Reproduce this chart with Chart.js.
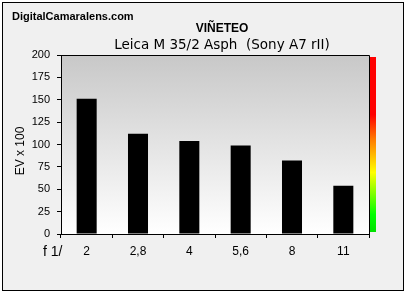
<!DOCTYPE html>
<html lang="es">
<head>
    <meta charset="UTF-8">
    <title>Viñeteo - Leica M 35/2 Asph</title>
    <script src="https://cdn.jsdelivr.net/npm/chart.js"></script>
    <style>
        body {
            margin: 0;
            background: #ffffff;
        }
        canvas {
            display: block;
        }
    </style>
</head>
<body>
    <canvas id="vignetteChart" width="406" height="293"></canvas>

    <script>
        // Datos del gráfico
        const apertures = ['2', '2,8', '4', '5,6', '8', '11'];
        const vignetting = [151, 112, 104, 99, 82, 54];
        const yTicks = [0, 25, 50, 75, 100, 125, 150, 175, 200];

        const siteName = 'DigitalCamaralens.com';
        const chartTitle = 'VIÑETEO';
        const chartSubtitle = 'Leica M 35/2 Asph  (Sony A7 rII)';
        const xPrefix = 'f 1/';
        const yTitle = 'EV x 100';

        // Fondo, marco, barra de color y textos
        const decorations = {
            id: 'decorations',
            beforeDraw(chart) {
                const c = chart.ctx;
                const a = chart.chartArea;
                c.save();
                c.fillStyle = '#ffffff';
                c.fillRect(0, 0, chart.width, chart.height);
                c.fillStyle = '#f0f0f0';
                c.fillRect(2, 2, 402, 289);
                c.strokeStyle = '#000000';
                c.lineWidth = 1;
                c.strokeRect(2.5, 2.5, 401, 288);

                const g = c.createLinearGradient(0, a.top, 0, a.bottom);
                g.addColorStop(0, '#c8c8c8');
                g.addColorStop(1, '#ffffff');
                c.fillStyle = g;
                c.fillRect(a.left, a.top, a.right - a.left, a.bottom - a.top);
                c.restore();
            },
            afterDraw(chart) {
                const c = chart.ctx;
                const a = chart.chartArea;
                c.save();
                c.strokeStyle = '#000000';
                c.lineWidth = 1;
                c.beginPath();
                c.moveTo(a.left, a.top + 0.5);
                c.lineTo(a.right + 0.5, a.top + 0.5);
                c.lineTo(a.right + 0.5, a.bottom);
                c.stroke();

                // barra de color a la derecha
                const g = c.createLinearGradient(0, a.top + 2, 0, a.bottom - 2);
                g.addColorStop(0, '#ff0000');
                g.addColorStop(0.33, '#ff0000');
                g.addColorStop(0.47, '#ff7a00');
                g.addColorStop(0.66, '#ffff00');
                g.addColorStop(0.9, '#00ff00');
                g.addColorStop(1, '#00e000');
                c.fillStyle = g;
                c.fillRect(a.right + 1, a.top + 2, 6, a.bottom - a.top - 4);

                c.fillStyle = '#000000';
                c.textBaseline = 'middle';
                c.textAlign = 'left';
                c.font = 'bold 11px "Liberation Sans"';
                c.fillText(siteName, 12, 17);

                c.textAlign = 'center';
                c.font = 'bold 12px "Liberation Sans"';
                c.fillText(chartTitle, 222, 29);
                c.font = '13.5px "DejaVu Sans"';
                c.fillText(chartSubtitle, 222, 45);

                c.textAlign = 'left';
                c.font = '14px "Liberation Sans"';
                c.fillText(xPrefix, 43, 252);

                // título del eje Y
                c.translate(21, 151);
                c.rotate(-Math.PI / 2);
                c.textAlign = 'center';
                c.font = '12px "Liberation Sans"';
                c.fillText(yTitle, 0, 0);
                c.restore();
            }
        };

        const ctx = document.getElementById('vignetteChart').getContext('2d');

        new Chart(ctx, {
            type: 'bar',
            data: {
                labels: apertures,
                datasets: [{
                    data: vignetting,
                    backgroundColor: '#000000',
                    borderWidth: 0,
                    barPercentage: 0.39,
                    categoryPercentage: 1
                }]
            },
            options: {
                responsive: false,
                animation: false,
                layout: {
                    padding: { top: 55, right: 37, left: 0, bottom: 35 }
                },
                plugins: {
                    legend: { display: false },
                    tooltip: { enabled: false }
                },
                scales: {
                    x: {
                        grid: {
                            offset: true,
                            drawOnChartArea: false,
                            tickLength: 4,
                            color: '#000000'
                        },
                        border: { color: '#000000' },
                        ticks: {
                            color: '#000000',
                            padding: 6,
                            maxRotation: 0,
                            font: { family: 'Liberation Sans', size: 12 }
                        },
                        afterFit(scale) { scale.height = 24; }
                    },
                    y: {
                        min: 0,
                        max: 200,
                        afterBuildTicks(scale) {
                            scale.ticks = yTicks.map(v => ({ value: v }));
                        },
                        grid: {
                            drawOnChartArea: false,
                            tickLength: 4,
                            color: '#000000'
                        },
                        border: { color: '#000000' },
                        ticks: {
                            color: '#000000',
                            padding: 7,
                            font: { family: 'Liberation Sans', size: 11 }
                        },
                        afterFit(scale) { scale.width = 61; }
                    }
                }
            },
            plugins: [decorations]
        });
    </script>
</body>
</html>
